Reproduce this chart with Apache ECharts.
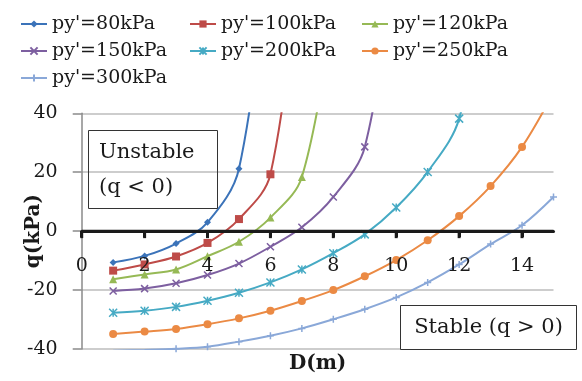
<!DOCTYPE html>
<html>
<head>
<meta charset="utf-8">
<script src="https://cdn.jsdelivr.net/npm/echarts@6/dist/echarts.min.js"></script>
<style>html,body{margin:0;padding:0;background:#fff}#c{width:582px;height:381px}</style>
</head>
<body>
<div id="c"></div>
<script>
// ---- data ----
const D = [1, 2, 3, 4, 5, 6, 7, 8, 9, 10, 11, 12, 13, 14, 15];
const seriesNames = ["py'=80kPa", "py'=100kPa", "py'=120kPa", "py'=150kPa", "py'=200kPa", "py'=250kPa", "py'=300kPa"];
const q80  = [-10.6, -8.4, -4.2, 3.0, 21.2, 100];
const q100 = [-13.4, -11.3, -8.6, -4.0, 4.1, 19.3, 100];
const q120 = [-16.3, -14.7, -13.0, -8.5, -3.6, 4.6, 18.4, 75];
const q150 = [-20.3, -19.5, -17.7, -14.9, -11.0, -5.3, 1.3, 11.6, 28.6, 95];
const q200 = [-27.7, -27.0, -25.7, -23.6, -20.9, -17.4, -13.0, -7.5, -1.1, 8.0, 20.1, 38.2, 95];
const q250 = [-34.9, -34.1, -33.2, -31.6, -29.6, -27.0, -23.7, -20.0, -15.3, -9.8, -3.1, 5.1, 15.3, 28.6, 47];
const q300 = [-40.6, -40.3, -39.9, -39.2, -37.5, -35.5, -33.0, -29.9, -26.5, -22.5, -17.4, -11.3, -4.4, 2.0, 11.6];
const xTicks = [0, 2, 4, 6, 8, 10, 12, 14];
const yTicks = [-40, -20, 0, 20, 40];

// ---- styles ----
const colors = ['#3B73B9', '#BE4B48', '#96B955', '#7D5FA0', '#46AAC4', '#EB8A44', '#8AA8D8'];
const symbols = [
  'diamond', 'rect', 'triangle',
  'path://M0,0L10,10M10,0L0,10',
  'path://M0,0L10,10M10,0L0,10M5,0L5,10',
  'circle',
  'path://M5,0L5,10M0,5L10,5'
];
const symSizes = [7, 8, 8, 7, 8, 8, 7];
const allQ = [q80, q100, q120, q150, q200, q250, q300];
const FONT = '"DejaVu Serif", serif';
const AXIS_DARK = '#1a1a1a';

const series = allQ.map((vals, i) => ({
  name: seriesNames[i],
  type: 'line',
  data: vals.map((v, k) => [D[k], v]),
  smooth: 0.35,
  symbol: symbols[i],
  symbolSize: symSizes[i],
  showSymbol: true,
  clip: true,
  lineStyle: { color: colors[i], width: 2 },
  itemStyle: { color: colors[i], borderColor: colors[i], borderWidth: (i === 3 || i === 4 || i === 6) ? 1.5 : 0 },
  emphasis: { disabled: true },
  z: 3
}));

// x axis line at q = 0 (drawn through the y scale)
series.push({
  name: 'xaxis-zero',
  type: 'line',
  data: [[0, 0], [15, 0]],
  symbol: 'none',
  smooth: false,
  clip: false,
  lineStyle: { color: AXIS_DARK, width: 3, type: 'solid' },
  itemStyle: { color: AXIS_DARK },
  emphasis: { disabled: true },
  silent: true,
  z: 4
});
// tick marks below the zero line
series.push({
  name: 'xaxis-ticks',
  type: 'scatter',
  data: xTicks.map(t => [t, 0]),
  symbol: 'rect',
  symbolSize: [3, 7],
  symbolOffset: [0, 3.5],
  itemStyle: { color: AXIS_DARK, opacity: 1 },
  emphasis: { disabled: true },
  silent: true,
  clip: false,
  z: 4
});

const legendPos = [[20, 14.5], [189, 14.5], [361, 14.5], [20, 41.5], [189, 41.5], [361, 41.5], [20, 68.5]];
const legends = seriesNames.map((n, i) => ({
  data: [n],
  left: legendPos[i][0],
  top: legendPos[i][1],
  padding: 0,
  itemWidth: 26,
  itemHeight: 9,
  itemGap: 5,
  selectedMode: false,
  textStyle: { fontFamily: FONT, fontSize: 19, color: '#1a1a1a' }
}));

const chart = echarts.init(document.getElementById('c'), null, { renderer: 'canvas' });
chart.setOption({
  animation: false,
  color: colors,
  legend: legends,
  grid: { left: 81.7, right: 28.5, top: 113.3, bottom: 32, containLabel: false, outerBoundsMode: 'none' },
  xAxis: {
    type: 'value', min: 0, max: 15, interval: 2,
    position: 'bottom', offset: -118,
    name: 'D(m)', nameLocation: 'middle', nameGap: 123, nameMoveOverlap: false,
    nameTextStyle: { fontFamily: FONT, fontWeight: 'bold', fontSize: 20, color: '#1a1a1a' },
    axisLine: { show: true, onZero: false, lineStyle: { color: AXIS_DARK, width: 3 } },
    axisTick: { show: true, length: 6, customValues: xTicks, lineStyle: { color: AXIS_DARK, width: 3 } },
    axisLabel: { customValues: xTicks, margin: 26, fontFamily: FONT, fontSize: 19, color: '#1a1a1a' },
    splitLine: { show: false },
    z: 5
  },
  yAxis: {
    type: 'value', min: -40, max: 40, interval: 20,
    name: 'q(kPa)', nameLocation: 'middle', nameGap: 38, nameRotate: 90, nameMoveOverlap: false,
    nameTextStyle: { fontFamily: FONT, fontWeight: 'bold', fontSize: 20, color: '#1a1a1a' },
    axisLine: { show: true, onZero: false, lineStyle: { color: '#8a8a8a', width: 1.5 } },
    axisTick: { show: true, length: 9, lineStyle: { color: '#8a8a8a', width: 1.5 } },
    axisLabel: { margin: 24, fontFamily: FONT, fontSize: 19, color: '#1a1a1a' },
    splitLine: { show: true, lineStyle: { color: '#BDBDBD', width: 1.5 } }
  },
  series: series,
  graphic: [
    { type: 'rect', shape: { x: 88.5, y: 130.5, width: 129, height: 78 }, style: { fill: 'none', stroke: '#333', lineWidth: 1 }, z: 10 },
    { type: 'text', x: 99, y: 153, style: { text: 'Unstable', font: '21px "DejaVu Serif"', fill: '#1a1a1a', verticalAlign: 'middle' }, z: 10 },
    { type: 'text', x: 99, y: 188, style: { text: '(q < 0)', font: '21px "DejaVu Serif"', fill: '#1a1a1a', verticalAlign: 'middle' }, z: 10 },
    { type: 'rect', shape: { x: 400.5, y: 305.5, width: 176, height: 44 }, style: { fill: '#fff', stroke: '#333', lineWidth: 1 }, z: 10 },
    { type: 'text', x: 488.5, y: 328, style: { text: 'Stable (q > 0)', font: '21px "DejaVu Serif"', fill: '#1a1a1a', align: 'center', verticalAlign: 'middle' }, z: 10 }
  ]
});
</script>
</body>
</html>
